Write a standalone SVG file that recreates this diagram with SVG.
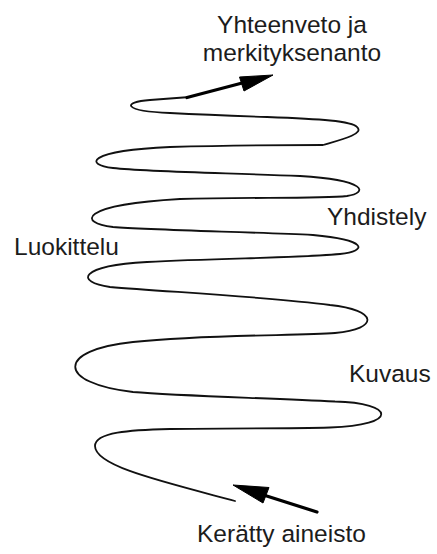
<svg xmlns="http://www.w3.org/2000/svg" width="437" height="554" viewBox="0 0 437 554">
<style>
.lbl{font-family:"Liberation Sans",Arial,sans-serif;font-size:24.5px;fill:#1c1c1c}
.spiral{fill:none;stroke:#111;stroke-width:1.8;stroke-linecap:round;stroke-linejoin:round}
.shaft{fill:none;stroke:#000;stroke-width:3.2;stroke-linecap:round}
.head{fill:#000;stroke:#000;stroke-width:1;stroke-linejoin:round}
</style>
<rect width="437" height="554" fill="#fff"/>
<g id="connectors">
<path class="spiral" d="M235,501 C160,481 95,466 95,446 C95,432 130,430 170,429 C240,428.5 290,428.5 330,427.5 C400,425 395,403 335,401.5 C270,398 180,396 133,392 C56,383 56,350 133,342 C210,334 300,336 335,333 C380,329 378,310 330,305 C270,297 170,292 110,287 C75,282 78,266 147,262 C220,258 300,258 340,254 C368,251 368,240 313,235 C250,232 150,230 113,227 C78,223 78,205 180,199 C250,197 320,199 347,196 C368,193 368,180 300,176 C230,173 150,172 113,168 C85,165 85,151 170,147 C240,145 300,145 323,145 C340,140 365,134 357,127 C352,121 320,119 267,117 C210,115 190,114 170,113 C122,111 122,102 150,100 L190,97"/>
<line class="shaft" x1="187" y1="97.5" x2="246" y2="82"/>
<polygon class="head" points="273,75 239.5,77 244,91"/>
<line class="shaft" x1="317" y1="512" x2="262" y2="494.5"/>
<polygon class="head" points="233,485 269,487.5 263,503"/>
</g>
<g id="node-yhteenveto"><text class="lbl" text-anchor="middle" x="292" y="33">Yhteenveto ja</text><text class="lbl" text-anchor="middle" x="292" y="61">merkityksenanto</text></g>
<g id="node-yhdistely"><text class="lbl" x="327" y="225">Yhdistely</text></g>
<g id="node-luokittelu"><text class="lbl" x="14" y="255">Luokittelu</text></g>
<g id="node-kuvaus"><text class="lbl" x="349" y="382">Kuvaus</text></g>
<g id="node-keratty"><text class="lbl" x="197" y="542">Kerätty aineisto</text></g>
</svg>
